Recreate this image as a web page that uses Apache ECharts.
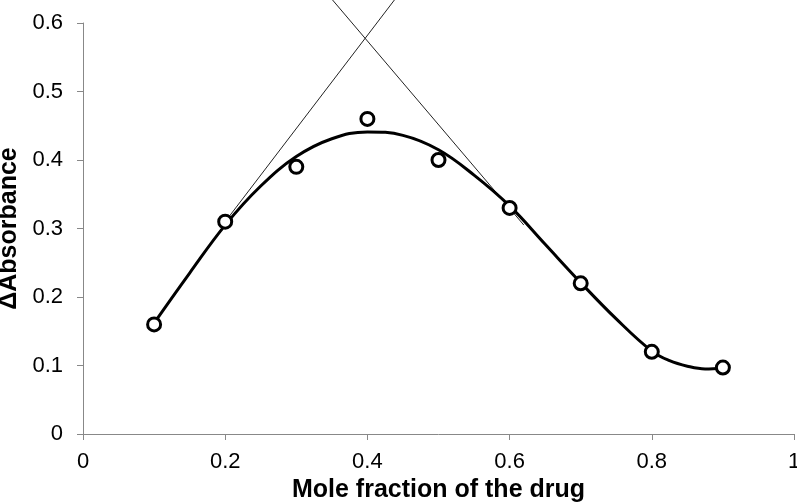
<!DOCTYPE html>
<html>
<head>
<meta charset="utf-8">
<script src="https://cdn.jsdelivr.net/npm/echarts@6/dist/echarts.min.js"></script>
<style>
  html, body { margin: 0; padding: 0; background: #fff; }
  #ech { width: 797px; height: 504px; }
</style>
</head>
<body>
<div id="ech"></div>
<script>
// measured points
var moleFraction = [0.1, 0.2, 0.3, 0.4, 0.5, 0.6, 0.7, 0.8, 0.9];
var deltaAbs = [0.16, 0.31, 0.39, 0.46, 0.40, 0.33, 0.22, 0.12, 0.097];

// fitted curve
var fitX = [0.1, 0.15, 0.2, 0.25, 0.3, 0.35, 0.4, 0.45, 0.5, 0.55, 0.6, 0.65, 0.7, 0.75, 0.8, 0.825, 0.85, 0.875, 0.9];
var fitY = [0.162, 0.235, 0.305, 0.362, 0.405, 0.431, 0.441, 0.436, 0.415, 0.378, 0.333, 0.277, 0.221, 0.168, 0.121, 0.107, 0.099, 0.095, 0.096];

// tangent lines (start / end)
var tangentLeftX = [0.2, 0.438];
var tangentLeftY = [0.31, 0.6336];
var tangentRightX = [0.351, 0.62];
var tangentRightY = [0.6336, 0.305];

var xTicks = [0, 0.2, 0.4, 0.6, 0.8, 1];
var yTicks = [0, 0.1, 0.2, 0.3, 0.4, 0.5, 0.6];

function pairs(xs, ys) {
  return xs.map(function (x, i) { return [x, ys[i]]; });
}

var myChart = echarts.init(document.getElementById("ech"));
var font = "Liberation Sans, Arial, sans-serif";

var option = {
  animation: false,
  grid: { left: 83, right: 3, top: 23, bottom: 70, containLabel: false, outerBoundsMode: "none" },
  xAxis: {
    type: "value",
    min: 0,
    max: 1,
    interval: 0.2,
    name: "Mole fraction of the drug",
    nameLocation: "middle",
    nameGap: 43,
    nameTextStyle: { fontFamily: font, fontSize: 25, fontWeight: "bold", color: "#000" },
    axisLine: { lineStyle: { color: "#888", width: 1 } },
    axisTick: { show: true, length: 6, lineStyle: { color: "#888" } },
    splitLine: { show: false },
    axisLabel: {
      fontFamily: font, fontSize: 22, color: "#000", margin: 17,
      formatter: function (v) { return xTicks.indexOf(+v.toFixed(1)) >= 0 ? String(+v.toFixed(1)) : ""; }
    }
  },
  yAxis: {
    type: "value",
    min: 0,
    max: 0.6,
    interval: 0.1,
    name: "\u0394Absorbance",
    nameLocation: "middle",
    nameGap: 61,
    nameRotate: 90,
    nameTextStyle: { fontFamily: font, fontSize: 25, fontWeight: "bold", color: "#000" },
    axisLine: { show: true, lineStyle: { color: "#888", width: 1 } },
    axisTick: { show: true, length: 6, lineStyle: { color: "#888" } },
    splitLine: { show: false },
    axisLabel: {
      fontFamily: font, fontSize: 22, color: "#000", margin: 20,
      formatter: function (v) { return yTicks.indexOf(+v.toFixed(1)) >= 0 ? String(+v.toFixed(1)) : ""; }
    }
  },
  series: [
    {
      type: "line",
      data: pairs(tangentLeftX, tangentLeftY),
      symbol: "none",
      clip: false,
      lineStyle: { color: "#222", width: 1 },
      z: 1
    },
    {
      type: "line",
      data: pairs(tangentRightX, tangentRightY),
      symbol: "none",
      clip: false,
      lineStyle: { color: "#222", width: 1 },
      z: 1
    },
    {
      type: "line",
      data: pairs(fitX, fitY),
      smooth: 0.4,
      symbol: "none",
      lineStyle: { color: "#000", width: 3 },
      z: 2
    },
    {
      type: "scatter",
      data: pairs(moleFraction, deltaAbs),
      symbol: "circle",
      symbolSize: 13,
      itemStyle: { color: "#fff", borderColor: "#000", borderWidth: 3, opacity: 1 },
      z: 3
    }
  ]
};

myChart.setOption(option);
</script>
</body>
</html>
